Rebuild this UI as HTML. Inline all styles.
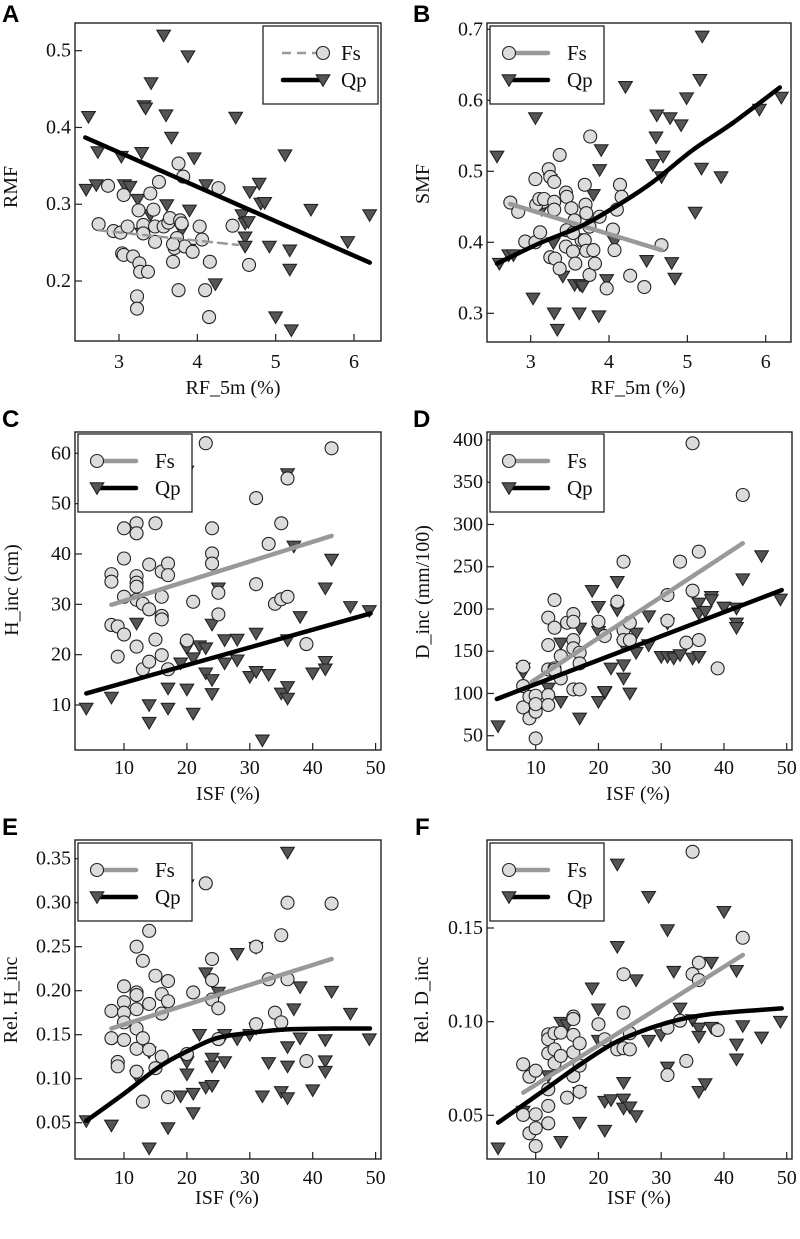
<!DOCTYPE html>
<html><head><meta charset="utf-8"><style>
html,body{margin:0;padding:0;background:#fff;}
svg{display:block;font-family:"Liberation Serif",serif;}
svg text{font-family:"Liberation Serif",serif;}
svg text.lettr{font-family:"Liberation Sans",sans-serif;}
</style></head><body>
<svg id="fig" width="800" height="1239" viewBox="0 0 800 1239" xmlns="http://www.w3.org/2000/svg"></svg>
<script>
// ---------- DATA ----------
const xTicksRF = [3,4,5,6];
const xTicksISF = [10,20,30,40,50];
const yTicksA = [0.2,0.3,0.4,0.5];
const yTicksB = [0.3,0.4,0.5,0.6,0.7];
const yTicksC = [10,20,30,40,50,60];
const yTicksD = [50,100,150,200,250,300,350,400];
const yTicksE = [0.05,0.10,0.15,0.20,0.25,0.30,0.35];
const yTicksF = [0.05,0.10,0.15];

const A_fs = [[2.74,0.274],[2.93,0.265],[2.86,0.324],[3.06,0.312],[3.02,0.263],[3.11,0.271],[3.04,0.236],[3.06,0.234],[3.18,0.232],[3.25,0.292],[3.26,0.223],[3.27,0.212],[3.37,0.212],[3.40,0.314],[3.31,0.273],[3.31,0.262],[3.44,0.293],[3.46,0.271],[3.46,0.251],[3.57,0.271],[3.51,0.329],[3.63,0.276],[3.65,0.282],[3.74,0.256],[3.71,0.243],[3.69,0.225],[3.76,0.353],[3.82,0.336],[3.78,0.279],[3.80,0.275],[3.84,0.245],[3.76,0.188],[3.69,0.248],[4.03,0.271],[4.06,0.254],[3.94,0.238],[4.10,0.188],[4.16,0.225],[4.15,0.153],[4.27,0.321],[4.45,0.272],[4.66,0.221],[3.23,0.180],[3.23,0.164]];
const A_qp = [[3.57,0.520],[3.88,0.493],[3.41,0.458],[3.32,0.428],[3.34,0.425],[2.61,0.414],[3.60,0.416],[4.49,0.413],[3.67,0.387],[2.73,0.368],[3.03,0.362],[3.29,0.367],[3.96,0.360],[5.12,0.364],[2.58,0.319],[2.71,0.325],[3.07,0.325],[3.14,0.323],[3.24,0.306],[3.61,0.299],[3.90,0.292],[4.11,0.325],[4.79,0.327],[4.67,0.316],[4.57,0.286],[4.81,0.301],[4.86,0.302],[4.61,0.275],[4.65,0.277],[5.45,0.293],[6.20,0.286],[3.29,0.262],[3.40,0.286],[3.80,0.266],[3.89,0.241],[4.61,0.257],[4.61,0.245],[4.92,0.245],[5.18,0.240],[5.18,0.215],[5.92,0.251],[4.23,0.196],[5.00,0.153],[5.20,0.136]];
const A_fsFit = [[2.74,0.266],[4.52,0.247]];
const A_qpFit = [[2.57,0.387],[6.20,0.224]];

const B_fs = [[2.74,0.456],[2.84,0.443],[2.93,0.401],[3.06,0.400],[3.06,0.489],[3.12,0.414],[3.16,0.457],[3.07,0.453],[3.11,0.461],[3.17,0.461],[3.23,0.503],[3.25,0.492],[3.30,0.485],[3.30,0.457],[3.30,0.446],[3.25,0.379],[3.31,0.377],[3.37,0.363],[3.37,0.523],[3.45,0.470],[3.46,0.464],[3.46,0.417],[3.45,0.394],[3.52,0.448],[3.56,0.431],[3.54,0.387],[3.57,0.370],[3.65,0.403],[3.69,0.481],[3.70,0.453],[3.71,0.441],[3.69,0.403],[3.71,0.388],[3.76,0.549],[3.75,0.354],[3.80,0.389],[3.82,0.370],[3.88,0.436],[3.97,0.335],[4.05,0.418],[4.07,0.389],[4.10,0.446],[4.14,0.481],[4.16,0.464],[4.27,0.353],[4.45,0.337],[4.67,0.396],[3.75,0.422],[3.54,0.413]];
const B_qp = [[2.57,0.521],[3.06,0.575],[2.60,0.370],[2.72,0.382],[2.78,0.382],[3.25,0.488],[3.14,0.446],[3.29,0.399],[3.41,0.352],[3.03,0.321],[3.30,0.300],[3.34,0.277],[3.56,0.340],[3.63,0.340],[3.66,0.338],[3.62,0.300],[3.87,0.296],[3.97,0.347],[3.80,0.467],[3.88,0.502],[3.90,0.530],[4.07,0.401],[4.21,0.619],[4.48,0.374],[4.61,0.579],[4.60,0.548],[4.56,0.509],[4.69,0.521],[4.67,0.492],[4.78,0.575],[4.92,0.565],[4.80,0.371],[4.84,0.349],[4.99,0.603],[5.10,0.442],[5.16,0.629],[5.18,0.504],[5.19,0.690],[5.43,0.492],[5.92,0.587],[6.20,0.604]];
const B_fsFit = [[2.74,0.454],[4.67,0.389]];
const B_qpFit = [[2.57,0.370],[3.12,0.399],[3.63,0.422],[4.05,0.448],[4.56,0.485],[5.07,0.530],[5.58,0.568],[6.18,0.618]];

const C_fs = [[8,36.0],[8,34.5],[8,25.9],[9,25.6],[9,19.6],[10,24.0],[10,45.1],[10,39.1],[10,31.5],[12,35.6],[12,34.3],[12,33.5],[12,30.9],[12,46.1],[12,44.1],[12,21.6],[13,30.1],[13,17.1],[14,37.9],[14,29.0],[14,18.6],[15,46.1],[15,23.0],[16,36.5],[16,31.5],[16,27.7],[16,27.0],[16,19.9],[17,38.1],[17,35.8],[17,17.1],[20,22.8],[21,30.5],[23,62.0],[24,45.1],[24,40.1],[24,38.1],[25,32.3],[25,28.0],[31,51.1],[31,34.0],[33,42.0],[34,30.1],[35,31.0],[35,46.1],[36,31.5],[36,55.0],[39,22.1],[43,61.0],[13,53.0]];
const C_qp = [[4,9.3],[8,11.5],[12,26.2],[14,10.0],[14,6.5],[17,13.3],[17,9.3],[19,18.3],[20,56.4],[20,21.3],[20,13.1],[21,8.3],[21,19.3],[22,21.7],[23,21.3],[23,16.3],[24,15.0],[24,12.2],[24,26.0],[25,33.2],[26,22.9],[26,18.3],[28,23.0],[28,18.9],[30,15.6],[31,24.2],[31,16.6],[33,16.0],[35,12.3],[36,11.3],[36,13.6],[36,22.9],[36,55.9],[37,41.5],[38,27.5],[40,16.3],[42,33.2],[42,18.6],[42,17.1],[43,38.9],[46,29.5],[49,28.7],[32,3.0]];
const C_fsFit = [[8,29.9],[43,43.6]];
const C_qpFit = [[4,12.3],[49.2,28.2]];

const D_fs = [[8,131.7],[8,108.8],[8,83.5],[9,70.5],[9,96.1],[10,46.8],[10,86.3],[10,78.4],[10,97.3],[10,87.4],[12,189.7],[12,157.3],[12,128.5],[12,98.1],[12,86.3],[13,210.6],[13,177.8],[13,129.7],[14,144.3],[14,117.8],[15,183.7],[16,194.0],[16,163.2],[16,104.8],[16,153.4],[17,104.8],[17,148.2],[17,135.6],[20,184.9],[21,168.0],[23,208.6],[24,256.0],[24,175.1],[24,163.2],[25,183.7],[25,163.2],[31,216.5],[31,186.1],[33,256.0],[34,160.1],[35,396.1],[35,221.6],[36,267.8],[36,163.2],[39,129.7],[43,334.9],[16,184.9],[13,127.7]];
const D_qp = [[4,61.4],[8,129.7],[8,124.6],[12,106.0],[14,90.2],[14,159.3],[17,70.5],[17,177.0],[19,221.6],[20,90.2],[20,202.7],[20,173.1],[21,100.9],[21,102.1],[22,129.7],[23,232.3],[23,198.7],[24,157.3],[24,133.6],[24,117.8],[25,100.1],[26,171.1],[26,148.2],[28,191.6],[28,157.3],[30,143.5],[31,143.5],[31,182.9],[32,141.5],[33,145.5],[35,141.5],[36,206.6],[36,194.8],[36,143.5],[37,196.8],[38,214.5],[38,210.6],[40,201.9],[42,200.7],[42,182.9],[42,177.8],[43,235.4],[46,262.7],[49,211.4]];
const D_fsFit = [[9.4,113.9],[43,277.7]];
const D_qpFit = [[3.8,93.4],[49.2,222.4]];

const E_fs = [[8,0.177],[8,0.146],[9,0.119],[9,0.114],[10,0.205],[10,0.187],[10,0.175],[10,0.164],[10,0.144],[12,0.250],[12,0.198],[12,0.195],[12,0.179],[12,0.157],[12,0.134],[12,0.108],[13,0.234],[13,0.146],[13,0.074],[14,0.268],[14,0.185],[14,0.133],[15,0.217],[15,0.112],[16,0.196],[16,0.174],[16,0.125],[17,0.211],[17,0.188],[17,0.079],[20,0.128],[21,0.198],[23,0.322],[24,0.236],[24,0.212],[24,0.190],[25,0.180],[25,0.145],[31,0.250],[31,0.162],[33,0.213],[34,0.175],[35,0.263],[35,0.164],[36,0.213],[36,0.300],[39,0.120],[43,0.299]];
const E_qp = [[4,0.052],[8,0.047],[12,0.103],[14,0.021],[14,0.130],[17,0.044],[19,0.080],[20,0.320],[20,0.105],[20,0.119],[21,0.083],[21,0.061],[22,0.150],[23,0.220],[23,0.090],[24,0.123],[24,0.114],[24,0.092],[25,0.198],[26,0.119],[26,0.150],[28,0.145],[28,0.242],[30,0.150],[31,0.249],[31,0.157],[32,0.080],[33,0.118],[35,0.085],[36,0.357],[36,0.136],[36,0.114],[36,0.078],[37,0.179],[38,0.146],[38,0.204],[40,0.087],[42,0.144],[42,0.120],[42,0.108],[43,0.199],[46,0.174],[49,0.145]];
const E_fsFit = [[8,0.157],[43,0.236]];
const E_qpFit = [[4,0.052],[10,0.083],[15.7,0.114],[20,0.131],[24.7,0.146],[30,0.152],[35.9,0.156],[43.3,0.157],[49.1,0.157]];

const F_fs = [[8,0.0772],[8,0.0502],[9,0.0706],[9,0.0404],[10,0.0738],[10,0.0505],[10,0.0431],[10,0.0336],[12,0.0932],[12,0.0906],[12,0.0831],[12,0.0639],[12,0.0550],[12,0.0457],[13,0.0938],[13,0.0852],[13,0.0778],[14,0.0941],[14,0.0817],[15,0.0594],[16,0.1027],[16,0.0929],[16,0.0836],[16,0.0710],[17,0.0884],[17,0.0765],[17,0.0626],[20,0.0986],[21,0.0906],[23,0.0852],[24,0.1253],[24,0.1048],[24,0.0858],[25,0.0938],[25,0.0852],[31,0.0715],[31,0.0968],[33,0.1005],[34,0.0790],[35,0.1254],[35,0.1907],[36,0.1315],[36,0.1222],[39,0.0955],[43,0.1448],[16,0.1014]];
const F_qp = [[4,0.0324],[8,0.0520],[12,0.0710],[14,0.0995],[14,0.0359],[15,0.0982],[17,0.0461],[17,0.0621],[19,0.1178],[20,0.1066],[20,0.0899],[21,0.0418],[21,0.0573],[22,0.0582],[23,0.1840],[23,0.1400],[24,0.0674],[24,0.0585],[24,0.0537],[25,0.0543],[26,0.0496],[26,0.1222],[28,0.1667],[28,0.0899],[30,0.0929],[31,0.1489],[31,0.0756],[32,0.1267],[33,0.1071],[35,0.1009],[36,0.0964],[36,0.0920],[36,0.0626],[37,0.0667],[38,0.1315],[38,0.0968],[40,0.1587],[42,0.1272],[42,0.0879],[42,0.0799],[43,0.0977],[46,0.0916],[49,0.1000]];
const F_fsFit = [[8,0.0621],[43,0.1356]];
const F_qpFit = [[4,0.0461],[8,0.0555],[12.3,0.0657],[17,0.0769],[22.4,0.0884],[27.7,0.0959],[33,0.1012],[38.8,0.1044],[49.2,0.1071]];

// ---------- DRAWING ----------
const NS = "http://www.w3.org/2000/svg";
const svg = document.getElementById('fig');
const SERIF = '"Liberation Serif", serif';
function mk(tag, attrs, parent){
  const e = document.createElementNS(NS, tag);
  for (const k in attrs) e.setAttribute(k, attrs[k]);
  (parent||svg).appendChild(e);
  return e;
}
function txt(s, attrs, parent){
  if (!attrs['font-family']) attrs['font-family'] = SERIF;
  const t = mk('text', attrs, parent); t.textContent = s; return t;
}
function smoothPath(pts){
  if (pts.length < 3) return pts.map((p,i)=>(i?'L':'M')+p[0].toFixed(1)+','+p[1].toFixed(1)).join(' ');
  let d = 'M' + pts[0][0].toFixed(1) + ',' + pts[0][1].toFixed(1);
  for (let i = 0; i < pts.length - 1; i++){
    const p0 = pts[Math.max(0,i-1)], p1 = pts[i], p2 = pts[i+1], p3 = pts[Math.min(pts.length-1,i+2)];
    const c1 = [p1[0] + (p2[0]-p0[0])/6, p1[1] + (p2[1]-p0[1])/6];
    const c2 = [p2[0] - (p3[0]-p1[0])/6, p2[1] - (p3[1]-p1[1])/6];
    d += ` C${c1[0].toFixed(1)},${c1[1].toFixed(1)} ${c2[0].toFixed(1)},${c2[1].toFixed(1)} ${p2[0].toFixed(1)},${p2[1].toFixed(1)}`;
  }
  return d;
}

function panel(cfg){
  const g = mk('g', {});
  
  
  const sx = v => cfg.xp0 + (v - cfg.xv0) * cfg.xk;
  const sy = v => cfg.yp0 + (v - cfg.yv0) * cfg.yk;
  const [L,T,R,B] = cfg.box;
  const lt = txt(cfg.letter, {x: cfg.lx, y: cfg.ly, 'class':'lettr', 'font-family':'"Liberation Sans", sans-serif', 'font-weight':'bold', 'font-size':24, fill:'#000'}, g);
  
  
  cfg.xt.forEach(v => {
    const p = sx(v);
    const tk = mk('line', {x1:p, x2:p, y1:B, y2:B-7, stroke:'#222', 'stroke-width':1.2}, g);
    
    
    const tl = txt(String(v), {x:p, y:cfg.xtY, 'text-anchor':'middle', 'dominant-baseline':'central', 'font-size':20, fill:'#111'}, g);
    
    
  });
  cfg.yt.forEach(v => {
    const p = sy(v);
    const tk = mk('line', {x1:L, x2:L+7, y1:p, y2:p, stroke:'#222', 'stroke-width':1.2}, g);
    
    
    const tl = txt(v.toFixed(cfg.yDec), {x:L-4, y:p, 'text-anchor':'end', 'dominant-baseline':'central', 'font-size':20, fill:'#111'}, g);
    
    
  });
  const xt = txt(cfg.xTitle, {x:cfg.xTitleX, y:cfg.xTitleY, 'text-anchor':'middle', 'dominant-baseline':'central', 'font-size':20, fill:'#111'}, g);
  
  
  const yt = txt(cfg.yTitle, {x:0, y:0, 'text-anchor':'middle', 'dominant-baseline':'central', 'font-size':20, fill:'#111', transform:`translate(${cfg.yTitleX},${cfg.yTitleY}) rotate(-90)`}, g);
  
  

  const tri = (cx, cy) => `${cx-6.8},${cy-5.2} ${cx+6.8},${cy-5.2} ${cx},${cy+6.3}`;
  cfg.qp.forEach(d => {
    const m = mk('polygon', {points: tri(sx(d[0]), sy(d[1])), fill:'#555', stroke:'#222', 'stroke-width':1.1}, g);
    
    
  });
  cfg.fs.forEach(d => {
    const m = mk('circle', {cx:sx(d[0]), cy:sy(d[1]), r:6.5, fill:'#dcdcdc', stroke:'#222', 'stroke-width':1.1}, g);
    
    
  });
  const px = arr => arr.map(d => [sx(d[0]), sy(d[1])]);
  const f1 = mk('path', {d:smoothPath(px(cfg.fsFit)), fill:'none', stroke:'#999', 'stroke-width': cfg.dashed?2.5:4.5, 'stroke-dasharray': cfg.dashed?'9,6':'none', 'stroke-linecap':'round'}, g);
  
  
  const f2 = mk('path', {d:smoothPath(px(cfg.qpFit)), fill:'none', stroke:'#000', 'stroke-width':4.5, 'stroke-linecap':'round', 'stroke-linejoin':'round'}, g);
  
  
  const bx = mk('rect', {x:L, y:T, width:R-L, height:B-T, fill:'none', stroke:'#222', 'stroke-width':1.4}, g);
  
  
  const [lx1, ly1, lx2, ly2] = cfg.leg;
  const lg = mk('g', {}, g);
  
  
  mk('rect', {x:lx1, y:ly1, width:lx2-lx1, height:ly2-ly1, fill:'#fff', stroke:'#222', 'stroke-width':1.3}, lg);
  const r1 = ly1 + 27, r2 = ly1 + 54;
  const e1 = mk('g', {}, lg);
  
  
  const e2 = mk('g', {}, lg);
  
  
  if (cfg.legStyle === 'A'){
    mk('line', {x1:lx1+19, x2:lx1+58, y1:r1, y2:r1, stroke:'#999', 'stroke-width':2.5, 'stroke-dasharray':'9,6'}, e1);
    mk('circle', {cx:lx1+60, cy:r1, r:6.5, fill:'#dcdcdc', stroke:'#222', 'stroke-width':1.1}, e1);
    mk('line', {x1:lx1+20, x2:lx1+57, y1:r2, y2:r2, stroke:'#000', 'stroke-width':4.5, 'stroke-linecap':'round'}, e2);
    mk('polygon', {points:tri(lx1+60, r2), fill:'#555', stroke:'#222', 'stroke-width':1.1}, e2);
    txt('Fs', {x:lx1+78, y:r1, 'dominant-baseline':'central', 'font-size':21, fill:'#111'}, e1);
    txt('Qp', {x:lx1+78, y:r2, 'dominant-baseline':'central', 'font-size':21, fill:'#111'}, e2);
  } else {
    mk('line', {x1:lx1+19, x2:lx1+58, y1:r1, y2:r1, stroke:'#999', 'stroke-width':4.5, 'stroke-linecap':'round'}, e1);
    mk('circle', {cx:lx1+19, cy:r1, r:6.5, fill:'#dcdcdc', stroke:'#222', 'stroke-width':1.1}, e1);
    mk('line', {x1:lx1+19, x2:lx1+58, y1:r2, y2:r2, stroke:'#000', 'stroke-width':4.5, 'stroke-linecap':'round'}, e2);
    mk('polygon', {points:tri(lx1+19, r2), fill:'#555', stroke:'#222', 'stroke-width':1.1}, e2);
    txt('Fs', {x:lx1+77, y:r1, 'dominant-baseline':'central', 'font-size':21, fill:'#111'}, e1);
    txt('Qp', {x:lx1+77, y:r2, 'dominant-baseline':'central', 'font-size':21, fill:'#111'}, e2);
  }
}

panel({letter:'A', lx:2, ly:22, box:[75,23,381,341], xp0:119, xv0:3, xk:78.33, yp0:50.7, yv0:0.5, yk:-767.7,
  xt:xTicksRF, yt:yTicksA, yDec:1, xtY:362, xTitle:'RF_5m (%)', xTitleX:233, xTitleY:388, yTitle:'RMF', yTitleX:11, yTitleY:187,
  fs:A_fs, qp:A_qp, fsFit:A_fsFit, qpFit:A_qpFit, dashed:true, leg:[263,26,378,104], legStyle:'A'});
panel({letter:'B', lx:413, ly:22, box:[487,23,791,342], xp0:530.7, xv0:3, xk:78.33, yp0:29.3, yv0:0.7, yk:-710,
  xt:xTicksRF, yt:yTicksB, yDec:1, xtY:362, xTitle:'RF_5m (%)', xTitleX:638, xTitleY:388, yTitle:'SMF', yTitleX:423, yTitleY:184,
  fs:B_fs, qp:B_qp, fsFit:B_fsFit, qpFit:B_qpFit, leg:[490,26,604,104]});
panel({letter:'C', lx:2, ly:427, box:[75,432,381,750], xp0:124, xv0:10, xk:6.29, yp0:453.3, yv0:60, yk:-5.034,
  xt:xTicksISF, yt:yTicksC, yDec:0, xtY:768, xTitle:'ISF (%)', xTitleX:228, xTitleY:794, yTitle:'H_inc (cm)', yTitleX:12, yTitleY:590,
  fs:C_fs, qp:C_qp, fsFit:C_fsFit, qpFit:C_qpFit, leg:[78,434,192,512]});
panel({letter:'D', lx:413, ly:427, box:[487,432,792,750], xp0:535.7, xv0:10, xk:6.275, yp0:440, yv0:400, yk:-0.8449,
  xt:xTicksISF, yt:yTicksD, yDec:0, xtY:768, xTitle:'ISF (%)', xTitleX:638, xTitleY:794, yTitle:'D_inc (mm/100)', yTitleX:423, yTitleY:592,
  fs:D_fs, qp:D_qp, fsFit:D_fsFit, qpFit:D_qpFit, leg:[490,434,604,512]});
panel({letter:'E', lx:2, ly:835, box:[75,840,381,1159], xp0:124, xv0:10, xk:6.29, yp0:858.7, yv0:0.35, yk:-880,
  xt:xTicksISF, yt:yTicksE, yDec:2, xtY:1178, xTitle:'ISF (%)', xTitleX:227, xTitleY:1198, yTitle:'Rel. H_inc', yTitleX:11, yTitleY:1000,
  fs:E_fs, qp:E_qp, fsFit:E_fsFit, qpFit:E_qpFit, leg:[78,843,192,921]});
panel({letter:'F', lx:415, ly:835, box:[487,840,792,1159], xp0:535.7, xv0:10, xk:6.275, yp0:928, yv0:0.15, yk:-1873,
  xt:xTicksISF, yt:yTicksF, yDec:2, xtY:1178, xTitle:'ISF (%)', xTitleX:639, xTitleY:1198, yTitle:'Rel. D_inc', yTitleX:422, yTitleY:1000,
  fs:F_fs, qp:F_qp, fsFit:F_fsFit, qpFit:F_qpFit, leg:[490,843,604,921]});
</script>
</body></html>
